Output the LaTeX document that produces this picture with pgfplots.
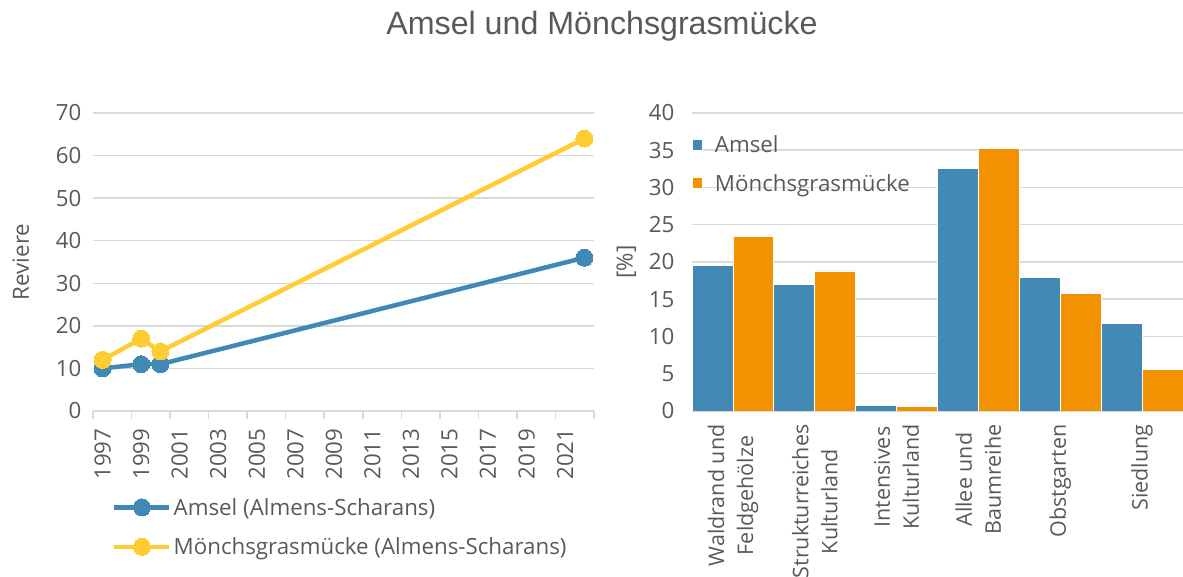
\documentclass[border=0pt]{standalone}
\usepackage{fontspec}
\setmainfont{Open Sans}
\newfontfamily\titlefont{Liberation Sans}
\usepackage{pgfplots}
\pgfplotsset{compat=1.18}
\definecolor{txt}{HTML}{595959}
\definecolor{gridc}{HTML}{D9D9D9}
\definecolor{amsel}{HTML}{4089B5}
\definecolor{moench}{HTML}{FFCD33}
\definecolor{barblue}{HTML}{428AB5}
\definecolor{barorange}{HTML}{F39200}
\newcommand{\lbl}{\fontsize{22.3}{29.5}\selectfont}
\newcommand{\catlbl}{\fontsize{21.5}{29}\selectfont}
\begin{document}
\begin{tikzpicture}
\path (0pt,0pt) rectangle (1183pt,577pt);
\node[font=\titlefont\fontsize{32.2}{36}\selectfont, text=txt, anchor=base] at (602pt,542pt) {Amsel und Mönchsgrasmücke};

\begin{axis}[
  at={(93pt,166pt)}, anchor=south west, width=501pt, height=298pt, scale only axis,
  /pgf/number format/assume math mode=true,
  xmin=1996.5, xmax=2022.5, ymin=0, ymax=70,
  ytick={0,10,...,70},
  xtick={1997,1999,2001,2003,2005,2007,2009,2011,2013,2015,2017,2019,2021},
  xticklabels={1997,1999,2001,2003,2005,2007,2009,2011,2013,2015,2017,2019,2021},
  extra x ticks={1996.5,1998.5,2000.5,2002.5,2004.5,2006.5,2008.5,2010.5,2012.5,2014.5,2016.5,2018.5,2020.5,2022.5},
  extra x tick labels={},
  extra x tick style={major tick length=8pt, xtick align=outside, tick style={draw=gridc, line width=1.5pt}},
  major tick length=0pt,
  axis x line*=bottom, axis y line*=left,
  x axis line style={draw=gridc, line width=1.5pt, -},
  y axis line style={draw=none},
  ymajorgrids, grid style={draw=gridc, line width=1.5pt},
  ticklabel style={font=\lbl, text=txt},
  xticklabel style={rotate=90, anchor=east},
  xticklabel shift=14pt,
  yticklabel shift=8pt,
  ylabel={\lbl Reviere},
  ylabel style={at={(axis description cs:-0.144,0.5)}, anchor=center, text=txt},
  clip=false,
  legend style={at={(axis description cs:0.038,-0.285)}, anchor=north west, draw=none, fill=none,
    font=\lbl, text=txt, row sep=17pt, inner sep=0pt, cells={anchor=west}},
  legend image code/.code={\draw[#1, mark repeat=2, mark phase=2] plot coordinates {(0pt,0pt)(27.5pt,0pt)(55pt,0pt)};},
]
\addplot[amsel, line width=4.5pt, mark=*, mark size=8.5pt, mark options={solid, line width=0pt, fill=amsel}]
  coordinates {(1997,10) (1999,11) (2000,11) (2022,36)};
\addlegendentry{Amsel (Almens-Scharans)}
\addplot[moench, line width=4.5pt, mark=*, mark size=8.5pt, mark options={solid, line width=0pt, fill=moench}]
  coordinates {(1997,12) (1999,17) (2000,14) (2022,64)};
\addlegendentry{Mönchsgrasmücke (Almens-Scharans)}
\end{axis}

\begin{axis}[
  at={(692pt,166pt)}, anchor=south west, width=491pt, height=298pt, scale only axis,
  /pgf/number format/assume math mode=true,
  ybar=0pt, bar width=40.9pt,
  xmin=-0.5, xmax=5.5, ymin=0, ymax=40,
  ytick={0,5,...,40},
  xtick={0,1,2,3,4,5},
  xticklabels={{Waldrand und\\Feldgehölze},{Strukturreiches\\Kulturland},{Intensives\\Kulturland},{Allee und\\Baumreihe},{Obstgarten},{Siedlung}},
  major tick length=0pt,
  axis x line*=bottom, axis y line*=left,
  x axis line style={draw=gridc, line width=1.5pt, -},
  y axis line style={draw=none},
  ymajorgrids, grid style={draw=gridc, line width=1.5pt},
  ticklabel style={font=\lbl, text=txt},
  xticklabel style={rotate=90, anchor=east, align=center, font=\catlbl},
  xticklabel shift=10pt,
  yticklabel shift=14pt,
  ylabel={\lbl [\%]},
  ylabel style={at={(axis description cs:-0.134,0.5)}, anchor=center, text=txt},
  legend style={at={(axis description cs:0.0,0.93)}, anchor=north west, draw=none, fill=none,
    font=\lbl, text=txt, row sep=16pt, inner sep=0pt, cells={anchor=west},
    /tikz/every odd column/.append style={column sep=10pt}},
  legend image code/.code={\fill[#1] (1pt,-5pt) rectangle (11pt,6pt);},
]
\addplot[fill=barblue, draw=white, line width=0.75pt]
  coordinates {(0,19.5) (1,17.0) (2,0.7) (3,32.6) (4,17.9) (5,11.8)};
\addlegendentry{Amsel}
\addplot[fill=barorange, draw=white, line width=0.75pt]
  coordinates {(0,23.4) (1,18.8) (2,0.6) (3,35.3) (4,15.8) (5,5.6)};
\addlegendentry{Mönchsgrasmücke}
\end{axis}
\pgfresetboundingbox
\useasboundingbox (0pt,0pt) rectangle (1183pt,577pt);
\end{tikzpicture}
\end{document}
